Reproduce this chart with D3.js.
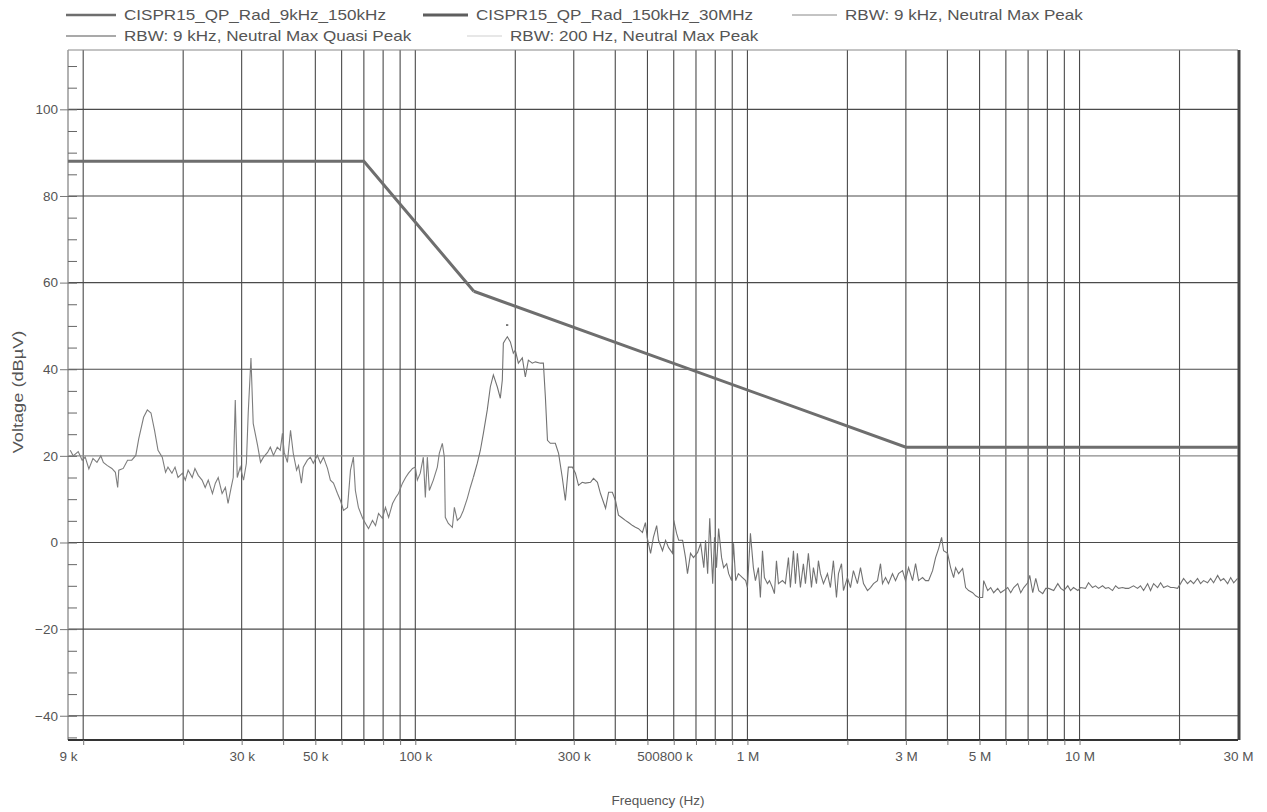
<!DOCTYPE html>
<html>
<head>
<meta charset="utf-8">
<script src="https://cdn.jsdelivr.net/npm/d3@7"></script>
<style>
  body { margin: 0; background: #fff; }
  text { font-family: "Liberation Sans", Arial, sans-serif; fill: #555; }
</style>
</head>
<body>
<div id="chart"></div>
<script>
// limit lines (Hz, dBuV)
var limitLow = [[9e3, 88], [70e3, 88], [150e3, 58]];
var limitHigh = [[150e3, 58], [3e6, 22], [30e6, 22]];

var peak200Hz = [[9.14,21.3],[9.33,20.0],[9.66,21.0],[9.93,19.0],[10.14,19.7],[10.4,17.0],[10.7,19.4],[11.0,18.5],[11.3,20.0],[11.5,18.5],[11.8,17.8],[12.2,17.1],[12.5,16.2],[12.7,12.7],[12.8,16.7],[13.2,17.1],[13.6,19.0],[14.0,19.0],[14.4,20.1],[14.7,24.0],[15.2,28.9],[15.6,30.6],[16.0,29.9],[16.4,25.9],[16.8,21.3],[17.3,19.7],[17.7,16.2],[18.0,17.4],[18.5,16.0],[18.9,17.4],[19.3,15.0],[19.9,16.0],[20.3,14.4],[20.7,16.7],[21.3,15.0],[21.7,17.1],[22.2,15.5],[22.8,14.4],[23.3,12.7],[23.8,14.4],[24.5,11.3],[25.0,13.7],[25.5,15.0],[26.2,11.3],[26.8,12.7],[27.3,9.0],[27.9,12.7],[28.3,15.0],[28.7,32.9],[29.1,15.0],[29.7,17.4],[30.4,14.4],[31.0,18.3],[31.4,30.0],[32.0,42.6],[32.5,27.5],[33.5,22.4],[34.2,18.5],[34.9,19.7],[35.9,20.8],[36.6,22.0],[37.4,20.1],[38.4,22.0],[39.2,21.3],[39.8,25.2],[40.3,20.8],[41.2,18.5],[42.1,25.9],[42.9,20.6],[43.9,16.7],[44.5,17.8],[45.4,13.7],[46.0,17.4],[47.3,19.0],[48.3,19.7],[49.3,18.3],[50.7,20.1],[51.8,18.3],[52.9,19.7],[54.4,17.1],[55.5,14.4],[56.7,13.7],[58.3,11.3],[59.5,9.7],[60.8,7.4],[62.5,8.1],[63.8,16.7],[65.1,19.7],[66.0,12.0],[67.4,8.1],[69.4,5.6],[70.8,4.4],[72.3,3.2],[74.3,5.1],[75.9,3.9],[77.5,6.7],[79.6,5.6],[81.3,8.1],[83.1,5.8],[85.4,9.0],[87.3,10.4],[89.0,11.3],[91.5,13.7],[93.5,15.0],[95.4,16.0],[98.1,17.1],[100,17.4],[101.4,14.4],[103.5,16.0],[105.7,19.7],[107.2,10.4],[108.7,19.7],[110.2,12.0],[113.3,14.4],[116.5,17.4],[118.1,20.6],[120.6,22.9],[122.3,19.7],[123.1,5.8],[125.7,4.4],[129.3,3.5],[131.1,8.1],[133.8,5.1],[136.6,5.8],[139.5,7.4],[143.4,10.2],[146.4,12.7],[149.5,15.0]];

var peak9kHz = [[149.5,15.0],[153.7,18.3],[157.0,21.3],[160.3,25.2],[164.7,30.6],[168.2,35.9],[171.8,38.7],[176.6,35.9],[180.3,33.3],[182.8,37.5],[184.1,46.0],[186.7,46.8],[189.3,47.5],[193.3,46.3],[197.3,43.7],[200,44.4],[204.3,41.4],[210,42.6],[214.4,38.2],[219,42.1],[225,41.4],[229.9,41.7],[238,41.4],[243,41.4],[246.4,33.6],[250,23.6],[255,22.9],[264,22.9],[270,20.6],[277,15.0],[283,9.7],[289,17.4],[297,17.4],[303.5,16.0],[310,13.2],[318,13.9],[325,13.7],[337,13.9],[344,14.8],[353.5,13.9],[361,11.3],[374,7.9],[382,11.6],[392,11.6],[400.6,9.7],[409,6.3],[421,5.6],[429,5.1],[438.5,4.6],[451,3.9],[460,3.5],[470,3.2],[483,2.3],[493,4.6],[499,1.2],[511,-2.5],[521,1.2],[533,3.9],[540,0.5],[555,-1.9],[567,0.5],[579,-1.2],[595,-2.5],[600,5.1],[612,2.1],[621,0.5],[638,0.5],[651,-3.5],[660,-7.2],[674,-2.5],[688,-3.5],[708,-2.3],[723,-0.2],[739,-5.8],[748,0.5],[759,-7.2],[770,5.6],[786,-9.5],[796,1.2],[807,-5.8],[819,3.2],[836,-3.5],[848,-5.8],[866,-4.9],[878,-7.2],[896,-8.8],[908,-0.2],[922,-8.8],[939,-7.2],[966,-8.1],[988,-8.8],
  [1000,-10.4],[1021,2.1],[1042,-5.8],[1057,-8.8],[1079,-5.8],[1094,-12.7],[1110,-1.9],[1125,-8.1],[1149,-9.5],[1165,-8.8],[1189,-10.4],[1206,-11.8],[1223,-4.2],[1240,-9.5],[1275,-8.8],[1301,-9.5],[1329,-3.5],[1347,-10.4],[1376,-1.9],[1395,-9.5],[1414,-2.5],[1444,-10.4],[1474,-4.9],[1495,-9.5],[1526,-2.5],[1559,-10.4],[1580,-5.8],[1614,-9.5],[1636,-4.2],[1659,-7.2],[1694,-9.5],[1742,-7.2],[1778,-10.4],[1815,-4.2],[1854,-12.7],[1880,-7.2],[1920,-4.9],[1946,-11.1],[2000,-8.1],[2043,-10.4],[2085,-6.5],[2144,-9.5],[2190,-5.8],[2236,-9.5],[2299,-11.1],[2348,-10.4],[2397,-9.5],[2464,-8.8],[2516,-4.9],[2551,-9.5],[2605,-8.1],[2659,-9.5],[2734,-7.2],[2792,-8.8],[2851,-7.2],[2931,-6.5],[2992,-8.8],[3056,-5.8],[3142,-8.8],[3208,-4.9],[3276,-8.8],[3368,-8.1],[3439,-8.8],[3511,-8.8],[3610,-6.5],[3686,-3.5],[3764,-1.4],[3843,1.2],[3896,-1.9],[4006,-2.5],[4090,-5.8],[4177,-8.1],[4235,-5.8],[4324,-7.2],[4446,-6.0],[4540,-10.4],[4636,-11.1],[4766,-11.6],[4866,-12.3],[4969,-12.7],[5108,-12.7],[5144,-8.8],[5289,-11.1],[5400,-10.4],[5514,-11.6],[5669,-10.6],[5789,-11.6],[5911,-11.1],[6077,-10.4],[6205,-11.6],[6336,-10.4],[6514,-9.5],[6651,-11.6],[6792,-10.4],[6982,-9.3],[7080,-7.6],[7229,-11.6],[7382,-8.3],[7538,-11.1],[7749,-11.8],[7913,-10.6],[8080,-10.6],[8360,-11.1],[8600,-9.5],[8780,-10.6],[8966,-11.1],[9218,-10.0],[9395,-11.1],[9590,-10.4],[9881,-11.1],
  [10070,-10.4],[10420,-10.6],[10640,-9.3],[10940,-10.4],[11170,-10.0],[11410,-10.6],[11730,-10.0],[11980,-10.6],[12230,-10.4],[12570,-11.1],[12840,-10.0],[13110,-10.6],[13470,-10.4],[13760,-10.6],[14050,-10.6],[14540,-10.0],[14950,-10.6],[15260,-10.0],[15590,-11.1],[16030,-9.5],[16360,-11.1],[16710,-9.5],[17180,-10.4],[17540,-9.3],[17910,-10.4],[18410,-10.0],[18800,-10.4],[19200,-10.4],[19730,-10.6],[20140,-9.5],[20570,-8.3],[21140,-9.5],[21590,-8.8],[22050,-9.5],[22660,-8.3],[23140,-9.5],[23630,-8.8],[24290,-9.3],[24810,-8.3],[25330,-9.3],[26050,-7.6],[26590,-8.8],[27160,-8.3],[27920,-9.5],[28510,-8.1],[29120,-9.3],[29920,-8.3]];

var quasiPeak = [[187.5,50.2],[190.5,50.2]];

// axis ticks and labels
var yTicks = [-40, -20, 0, 20, 40, 60, 80, 100];
var xGrid = [1e4,2e4,3e4,4e4,5e4,6e4,7e4,8e4,9e4,1e5,2e5,3e5,4e5,5e5,6e5,7e5,8e5,9e5,1e6,2e6,3e6,4e6,5e6,6e6,7e6,8e6,9e6,1e7,2e7];
var xTickValues = [9e3, 3e4, 5e4, 1e5, 3e5, 5e5, 1e6, 3e6, 5e6, 1e7, 3e7];
var xTickLabels = ["9 k", "30 k", "50 k", "100 k", "300 k", "500800 k", "1 M", "3 M", "5 M", "10 M", "30 M"];

var legendNames = ["CISPR15_QP_Rad_9kHz_150kHz", "CISPR15_QP_Rad_150kHz_30MHz", "RBW: 9 kHz, Neutral Max Peak",
                   "RBW: 9 kHz, Neutral Max Quasi Peak", "RBW: 200 Hz, Neutral Max Peak"];

var W = 1267, H = 812;
var plotLeft = 68, plotRight = 1238, plotTop = 50, plotBottom = 740;
var fontStack = "Liberation Sans, Arial, sans-serif";

var svg = d3.select("#chart").append("svg")
    .attr("width", W)
    .attr("height", H);

// scales
var x = d3.scaleLog().domain([9e3, 30e6]).range([plotLeft, plotRight]);
var y = d3.scaleLinear().domain([-45.6, 113.7]).range([plotBottom, plotTop]);

// vertical grid
svg.append("g").selectAll("line")
    .data(xGrid)
  .enter().append("line")
    .attr("x1", function(d) { return x(d); })
    .attr("x2", function(d) { return x(d); })
    .attr("y1", plotTop)
    .attr("y2", plotBottom)
    .attr("stroke", "#4a4a4a")
    .attr("stroke-width", 1.1);

// horizontal grid
svg.append("g").selectAll("line")
    .data(yTicks)
  .enter().append("line")
    .attr("x1", plotLeft)
    .attr("x2", plotRight)
    .attr("y1", function(d) { return y(d); })
    .attr("y2", function(d) { return y(d); })
    .attr("stroke", function(d) { return d === 20 ? "#8a8a8a" : "#4a4a4a"; })
    .attr("stroke-width", 1.1);

// frame
svg.append("line").attr("x1", plotLeft).attr("x2", plotRight).attr("y1", plotTop).attr("y2", plotTop)
    .attr("stroke", "#888").attr("stroke-width", 1);
svg.append("line").attr("x1", plotLeft).attr("x2", plotLeft).attr("y1", plotTop).attr("y2", plotBottom)
    .attr("stroke", "#999").attr("stroke-width", 1.5);
svg.append("line").attr("x1", plotRight + 1).attr("x2", plotRight + 1).attr("y1", plotTop).attr("y2", plotBottom)
    .attr("stroke", "#444").attr("stroke-width", 3);
svg.append("line").attr("x1", plotLeft).attr("x2", plotRight).attr("y1", plotBottom).attr("y2", plotBottom)
    .attr("stroke", "#333").attr("stroke-width", 2);

// y axis: outside major ticks with labels
var yAxis = svg.append("g")
    .attr("transform", "translate(" + plotLeft + ",0)")
    .call(d3.axisLeft(y).tickValues(yTicks).tickSize(8).tickPadding(2));
yAxis.select(".domain").remove();
yAxis.selectAll("line").attr("stroke", "#777");
yAxis.selectAll("text").style("font-size", "13.5px").attr("fill", "#555")
    .style("font-family", fontStack);

// y axis: inside minor ticks every 5
var yMinor = svg.append("g")
    .attr("transform", "translate(" + plotLeft + ",0)")
    .call(d3.axisRight(y).tickValues(d3.range(-45, 114, 5)).tickSize(9).tickFormat(""));
yMinor.select(".domain").remove();
yMinor.selectAll("line").attr("stroke", "#666");

// x axis: small ticks at grid frequencies
var xMinor = svg.append("g")
    .attr("transform", "translate(0," + plotBottom + ")")
    .call(d3.axisBottom(x).tickValues(xGrid).tickSize(5).tickFormat(""));
xMinor.select(".domain").remove();
xMinor.selectAll("line").attr("stroke", "#777");

// x axis labels
var xAxis = svg.append("g")
    .attr("transform", "translate(0," + plotBottom + ")")
    .call(d3.axisBottom(x).tickValues(xTickValues).tickSize(0).tickPadding(11)
      .tickFormat(function(d, i) { return xTickLabels[i]; }));
xAxis.select(".domain").remove();
xAxis.selectAll("text").style("font-size", "13.5px").attr("fill", "#555")
    .style("font-family", fontStack)
    .filter(function(d) { return d === 5e5; }).attr("dx", 17);

// axis titles
svg.append("text")
    .attr("x", 658)
    .attr("y", 805)
    .attr("text-anchor", "middle")
    .style("font-size", "13.5px")
    .text("Frequency (Hz)");
svg.append("text")
    .attr("transform", "translate(23,392) rotate(-90) scale(1.3,1)")
    .attr("text-anchor", "middle")
    .style("font-size", "14px")
    .text("Voltage (dB\u00b5V)");

// lines
var lineHz = d3.line()
    .x(function(d) { return x(d[0]); })
    .y(function(d) { return y(d[1]); });
var lineKHz = d3.line()
    .x(function(d) { return x(d[0] * 1e3); })
    .y(function(d) { return y(d[1]); });

svg.append("path").datum(peak200Hz)
    .attr("d", lineKHz).attr("fill", "none")
    .attr("stroke", "#7d7d7d").attr("stroke-width", 1.1);
svg.append("path").datum(peak9kHz)
    .attr("d", lineKHz).attr("fill", "none")
    .attr("stroke", "#727272").attr("stroke-width", 1.1);
svg.append("path").datum(quasiPeak)
    .attr("d", lineKHz).attr("fill", "none")
    .attr("stroke", "#555").attr("stroke-width", 1.5);

svg.append("path").datum(limitLow)
    .attr("d", lineHz).attr("fill", "none")
    .attr("stroke", "#6e6e6e").attr("stroke-width", 3);
svg.append("path").datum(limitHigh)
    .attr("d", lineHz).attr("fill", "none")
    .attr("stroke", "#6e6e6e").attr("stroke-width", 3);

// legend: group placed at the text start, sample line to its left
var legendItems = [
  {name: legendNames[0], x: 124, y: 20, color: "#6e6e6e", w: 2.5, len: 50},
  {name: legendNames[1], x: 476, y: 20, color: "#5e5e5e", w: 3,   len: 45},
  {name: legendNames[2], x: 845, y: 20, color: "#888",    w: 1,   len: 45},
  {name: legendNames[3], x: 124, y: 41, color: "#555",    w: 1.2, len: 50},
  {name: legendNames[4], x: 510, y: 41, color: "#cfcfcf", w: 1,   len: 35}
];
var leg = svg.append("g").selectAll("g")
    .data(legendItems)
  .enter().append("g")
    .attr("transform", function(d) { return "translate(" + d.x + "," + d.y + ")"; });
leg.append("line")
    .attr("x1", function(d) { return -8 - d.len; })
    .attr("x2", -8)
    .attr("y1", -5).attr("y2", -5)
    .attr("stroke", function(d) { return d.color; })
    .attr("stroke-width", function(d) { return d.w; });
leg.append("text")
    .attr("transform", "scale(1.22,1)")
    .style("font-size", "14px")
    .text(function(d) { return d.name; });
</script>
</body>
</html>
